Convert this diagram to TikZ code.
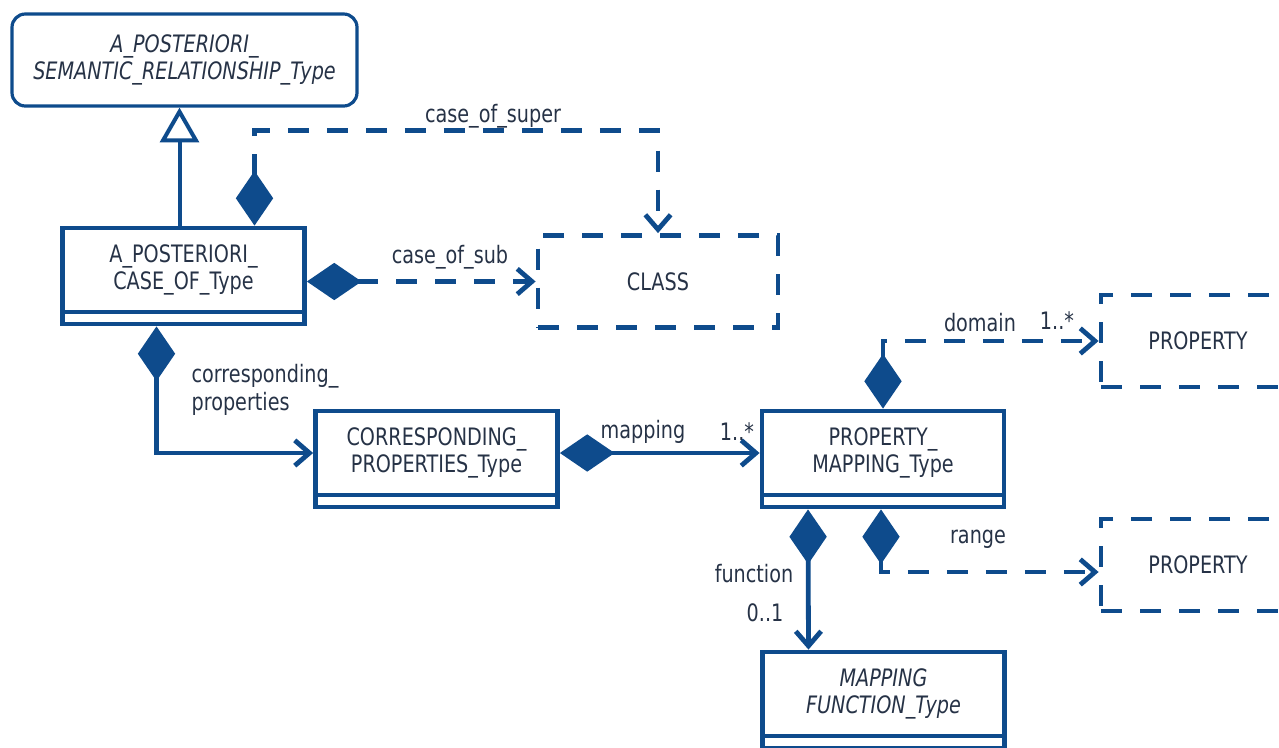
\documentclass[tikz,border=0pt]{standalone}
\usepackage{fontspec}
\setmainfont{DejaVu Sans}[FakeStretch=0.8]
\usepackage{tikz}
\usetikzlibrary{arrows.meta, calc, positioning}

\definecolor{umlblue}{RGB}{14,75,140}
\definecolor{umltext}{RGB}{38,50,70}

\tikzset{
  umldiamond/.tip={Diamond[length=41pt,width=28pt]},
  umlbarb/.tip={Straight Barb[length=11pt,width=19pt]},
  umlopen/.tip={Triangle[open,fill=white,length=26pt,width=29pt]}
}

\begin{document}
\begin{tikzpicture}[x=0.75pt, y=-0.75pt, font=\fontsize{18}{20.5}\selectfont, text=umltext,
    umlbox/.style={draw=umlblue, line width=3.6pt, minimum width=181.5pt, minimum height=63pt, inner sep=0pt, align=center},
    attbox/.style={draw=umlblue, line width=3.6pt, minimum width=181.5pt, minimum height=9pt, inner sep=0pt},
    dashbox/.style={draw=umlblue, line width=3.6pt, dash pattern=on 15.75pt off 13.5pt, minimum height=69pt, inner sep=0pt},
    absbox/.style={draw=umlblue, line width=2.4pt, rounded corners=10pt, minimum width=258.75pt, minimum height=69pt, align=center},
    lbl/.style={inner sep=1pt},
    assoc/.style={draw=umlblue, line width=3.6pt, umldiamond-umlbarb},
    depend/.style={assoc, dash pattern=on 15.75pt off 13.5pt},
    gen/.style={draw=umlblue, line width=3pt, -umlopen}]
    \useasboundingbox (0,0) rectangle (1279,747);
    \clip (0,0) rectangle (1279,747);

    % Abstract super type
    \node[absbox, font=\fontsize{18}{20.5}\selectfont\itshape] (asr) at (184.5,60) {A\_POSTERIORI\_\\SEMANTIC\_RELATIONSHIP\_Type};

    % Classes with empty attribute compartment
    \node[umlbox] (aco) at (183.5,270) {A\_POSTERIORI\_\\CASE\_OF\_Type};
    \node[attbox, below=-3.6pt of aco] (acoatt) {};
    \node[umlbox] (cpt) at (436.5,453) {CORRESPONDING\_\\PROPERTIES\_Type};
    \node[attbox, below=-3.6pt of cpt] (cptatt) {};
    \node[umlbox] (pmt) at (883,453) {PROPERTY\_\\MAPPING\_Type};
    \node[attbox, below=-3.6pt of pmt] (pmtatt) {};
    \node[umlbox, font=\fontsize{18}{20.5}\selectfont\itshape] (mft) at (883.5,694) {MAPPING\\FUNCTION\_Type};
    \node[attbox, below=-3.6pt of mft] (mftatt) {};

    % External types (dashed)
    \node[dashbox, minimum width=180pt] (cls) at (658,281.5) {CLASS};
    \node[dashbox, minimum width=145.5pt] (prop1) at (1198,341) {PROPERTY};
    \node[dashbox, minimum width=145.5pt] (prop2) at (1198,565) {PROPERTY};

    % Generalization
    \draw[gen] ($(aco.north)+(-4,0)$) -- ($(aco.north |- asr.south)+(-4,0)$);

    % case_of_super / case_of_sub
    \draw[depend] ($(aco.north)+(71,0)$) -- ++(0,-95) -| (cls.north);
    \draw[depend] (aco.east |- cls.west) -- (cls.west);
    \node[lbl] (lsuper) at (493,116) {case\_of\_super};
    \node[lbl] (lsub) at (450,257) {case\_of\_sub};

    % corresponding_properties
    \draw[assoc] ($(acoatt.south)+(-27,0)$) |- (cpt.west);
    \node[lbl, anchor=west, align=left, font=\fontsize{18}{21}\selectfont] (lcorr) at (190,390) {corresponding\_\\properties};

    % mapping
    \draw[assoc] (cpt.east) -- (pmt.west);
    \node[lbl] (lmap) at (643,432) {mapping};
    \node[lbl] (lmapm) at (737,432) {1..*};

    % domain / range
    \draw[depend] (pmt.north) |- (prop1.west);
    \node[lbl] (ldom) at (980,323) {domain};
    \node[lbl] (ldomm) at (1057,321) {1..*};
    \draw[depend] ($(pmtatt.south)+(-2,0)$) |- ($(prop2.west)+(0,7)$);
    \node[lbl] (lrange) at (978,539) {range};

    % function
    \draw[assoc] ($(pmtatt.south)+(-75,0)$) -- ($(mft.north)+(-75,0)$);
    \node[lbl] (lfun) at (754,574) {function};
    \node[lbl] (lfunm) at (765,613) {0..1};
\end{tikzpicture}
\end{document}
